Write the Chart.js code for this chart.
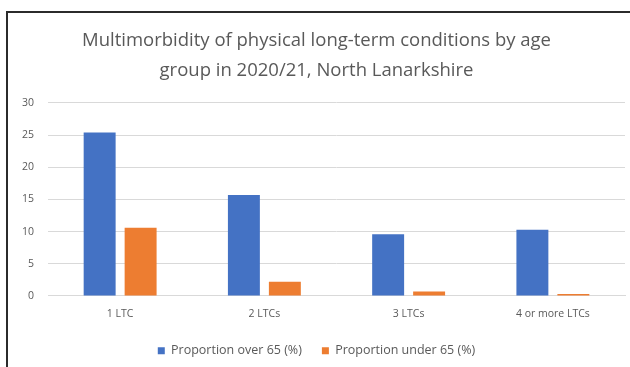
<!DOCTYPE html>
<html>
<head>
<meta charset="utf-8">
<script src="https://cdn.jsdelivr.net/npm/chart.js@4/dist/chart.umd.min.js"></script>
<style>
  html, body { margin: 0; padding: 0; background: #fff; }
  body { width: 630px; height: 367px; position: relative; overflow: hidden; }
  #wrap { position: absolute; left: 0; top: 0; width: 630px; height: 367px; }
  #frame {
    position: absolute; left: 6px; top: 11px; width: 700px; height: 400px;
    border: 2px solid #2b2b2b; pointer-events: none;
  }
</style>
</head>
<body>
<div id="wrap"><canvas id="chart" width="630" height="367"></canvas></div>
<div id="frame"></div>
<script>
// Age-group multimorbidity, North Lanarkshire 2020/21
const categories = ["1 LTC", "2 LTCs", "3 LTCs", "4 or more LTCs"];
const over65 = [25.4, 15.7, 9.6, 10.3];
const under65 = [10.6, 2.2, 0.7, 0.3];
const seriesNames = ["Proportion over 65 (%)", "Proportion under 65 (%)"];
const yTicks = [0, 5, 10, 15, 20, 25, 30];
const titleLines = [
  "Multimorbidity of physical long-term conditions by age",
  "group in 2020/21, North Lanarkshire"
];

const textGrey = "#595959";
const gridGrey = "#d9d9d9";

new Chart(document.getElementById("chart"), {
  type: "bar",
  data: {
    labels: categories,
    datasets: [
      { label: seriesNames[0], data: over65, backgroundColor: "#4472C4" },
      { label: seriesNames[1], data: under65, backgroundColor: "#ED7D31" }
    ]
  },
  options: {
    responsive: false,
    animation: false,
    devicePixelRatio: 1,
    categoryPercentage: 0.568,
    barPercentage: 0.78,
    layout: { padding: { left: 8, right: 5, top: 26, bottom: 0 } },
    plugins: {
      title: {
        display: true,
        text: titleLines,
        color: textGrey,
        font: { family: "Open Sans", size: 18.5, weight: "normal", lineHeight: 1.62 },
        padding: { top: 0, bottom: 17 }
      },
      legend: {
        position: "bottom",
        labels: {
          color: textGrey,
          font: { family: "Open Sans", size: 12.5 },
          boxWidth: 7,
          boxHeight: 7,
          padding: 20
        }
      },
      tooltip: { enabled: false }
    },
    scales: {
      x: {
        grid: { display: false },
        border: { color: gridGrey },
        ticks: { color: textGrey, font: { family: "Open Sans", size: 10.5 }, padding: 4 }
      },
      y: {
        min: 0,
        max: 30,
        afterBuildTicks: (axis) => { axis.ticks = yTicks.map(v => ({ value: v })); },
        grid: { color: gridGrey, drawTicks: false },
        border: { display: false },
        ticks: { color: textGrey, font: { family: "Open Sans", size: 10.5 }, padding: 14 }
      }
    }
  }
});
</script>
</body>
</html>
